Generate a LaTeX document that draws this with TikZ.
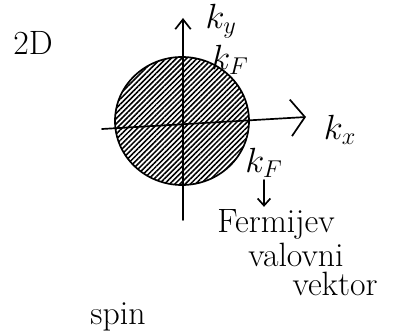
\documentclass[tikz,border=0pt]{standalone}
\usepackage{tikz}
\usetikzlibrary{arrows.meta,positioning,patterns.meta}

\begin{document}
\begin{tikzpicture}[x=0.025cm, y=-0.025cm, line width=1.2pt, line cap=round,
          lbl/.style={font=\fontsize{24}{26}\selectfont, inner sep=1pt},
          ax/.style={-{Straight Barb[length=7pt,width=11pt]}}]
        \useasboundingbox (0,0) rectangle (403,333);
        % Fermi disk
        \fill[pattern={Lines[angle=45,distance=2.6pt,line width=1.1pt]}]
          (182,121) ellipse (67 and 64);
        \draw (182,121) ellipse (67 and 64);
        % axes
        \coordinate (xl) at (102,129);
        \coordinate (xr) at (306,117);
        \coordinate (yb) at (183,220);
        \coordinate (yt) at (183,18);
        \draw[-{Straight Barb[length=10pt,width=26pt]}] (xl) -- (xr);
        \draw[ax] (yb) -- (yt);
        % labels
        \node[lbl] (twod)   at (33,43)   {2D};
        \node[lbl, anchor=north] (ky) at (221,2) {$k_y$};
        \node[lbl] (kftop)  at (230,60)  {$k_F$};
        \node[lbl] (kx)     at (340,130) {$k_x$};
        \node[lbl] (kfbot)  at (264,163) {$k_F$};
        \node[lbl] (fermi)  at (276,224) {Fermijev};
        \node[lbl] (valovni) at (296,255) {valovni};
        \node[lbl] (vektor) at (335,284) {vektor};
        \node[lbl, anchor=south] (spin) at (118,333) {spin};
        \draw[-{Straight Barb[length=5pt,width=9pt]}] (kfbot) -- (fermi.north -| kfbot);
      \end{tikzpicture}
\end{document}
